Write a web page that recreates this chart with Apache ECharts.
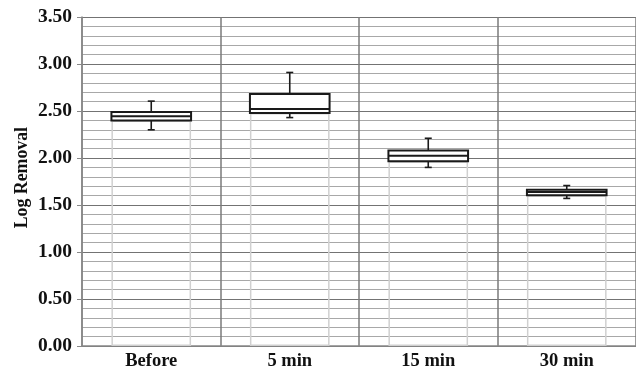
<!DOCTYPE html>
<html>
<head>
<meta charset="utf-8">
<script src="https://cdn.jsdelivr.net/npm/echarts@6/dist/echarts.min.js"></script>
<style>html,body{margin:0;padding:0;background:#fff}#c{width:636px;height:371px}</style>
</head>
<body>
<div id="c"></div>
<script>
const categories = ['Before', '5 min', '15 min', '30 min'];
const whiskerLow = [2.30, 2.43, 1.90, 1.57];
const q1 = [2.40, 2.48, 1.965, 1.605];
const median = [2.443, 2.52, 2.025, 1.637];
const q3 = [2.49, 2.68, 2.08, 1.662];
const whiskerHigh = [2.605, 2.91, 2.21, 1.707];
const yTickLabels = ['0.00', '0.50', '1.00', '1.50', '2.00', '2.50', '3.00', '3.50'];
const yAxisTitle = 'Log Removal';

const FONT = "'Liberation Serif', 'Times New Roman', serif";
const boxData = categories.map((c, i) => [i, whiskerLow[i], q1[i], median[i], q3[i], whiskerHigh[i]]);

const chart = echarts.init(document.getElementById('c'), null, {renderer: 'canvas'});
chart.setOption({
  animation: false,
  backgroundColor: '#fff',
  grid: {left: 82, right: -2, top: 17, bottom: 24},
  graphic: [{
    type: 'text',
    left: 13,
    top: 127,
    rotation: Math.PI / 2,
    style: {text: yAxisTitle, fill: '#111', font: "bold 17.8px 'Liberation Serif', 'Times New Roman', serif"}
  }],
  xAxis: {
    type: 'category',
    data: categories,
    boundaryGap: true,
    axisLine: {show: true, lineStyle: {color: '#888', width: 1.5}},
    axisTick: {show: false},
    axisLabel: {color: '#111', fontFamily: FONT, fontWeight: 'bold', fontSize: 18.5, margin: 6},
    splitLine: {show: true, interval: 0, lineStyle: {color: '#7a7a7a', width: 1.5}}
  },
  yAxis: {
    type: 'value',
    min: 0, max: 3.5, interval: 0.5,
    axisLine: {show: true, lineStyle: {color: '#888', width: 1.5}},
    axisTick: {show: true, inside: false, length: 5, lineStyle: {color: '#888'}},
    axisLabel: {
      color: '#111', fontFamily: FONT, fontWeight: 'bold', fontSize: 19.5, margin: 10,
      formatter: (v) => yTickLabels[Math.round(v / 0.5)]
    },
    splitLine: {show: true, lineStyle: {color: '#737373', width: 1.2}},
    minorTick: {show: false, splitNumber: 5},
    minorSplitLine: {show: true, lineStyle: {color: '#a8a8a8', width: 1.2}}
  },
  series: [
    {
      type: 'bar',
      data: q1,
      barWidth: '57.5%',
      itemStyle: {color: 'rgba(255,255,255,0)', borderColor: '#d0d0d0', borderWidth: 1.5},
      silent: true,
      z: 2
    },
    {
      type: 'custom',
      data: boxData,
      z: 5,
      renderItem: function (params, api) {
        const x = api.value(0);
        const pLow = api.coord([x, api.value(1)]);
        const pQ1 = api.coord([x, api.value(2)]);
        const pMed = api.coord([x, api.value(3)]);
        const pQ3 = api.coord([x, api.value(4)]);
        const pHigh = api.coord([x, api.value(5)]);
        const bw = api.size([1, 0])[0] * 0.575;
        const cx = pQ1[0];
        const capW = 7;
        const lineStyle = {stroke: '#1a1a1a', lineWidth: 1.6, fill: null};
        const boxStyle = {stroke: '#1a1a1a', lineWidth: 2, fill: '#fff'};
        return {
          type: 'group',
          children: [
            {type: 'line', shape: {x1: cx, y1: pHigh[1], x2: cx, y2: pQ3[1]}, style: lineStyle},
            {type: 'line', shape: {x1: cx - capW / 2, y1: pHigh[1], x2: cx + capW / 2, y2: pHigh[1]}, style: lineStyle},
            {type: 'line', shape: {x1: cx, y1: pLow[1], x2: cx, y2: pQ1[1]}, style: lineStyle},
            {type: 'line', shape: {x1: cx - capW / 2, y1: pLow[1], x2: cx + capW / 2, y2: pLow[1]}, style: lineStyle},
            {type: 'rect', shape: {x: cx - bw / 2, y: pQ3[1], width: bw, height: pQ1[1] - pQ3[1]}, style: boxStyle},
            {type: 'line', shape: {x1: cx - bw / 2, y1: pMed[1], x2: cx + bw / 2, y2: pMed[1]}, style: {stroke: '#1a1a1a', lineWidth: 2}}
          ]
        };
      }
    }
  ]
});
</script>
</body>
</html>
